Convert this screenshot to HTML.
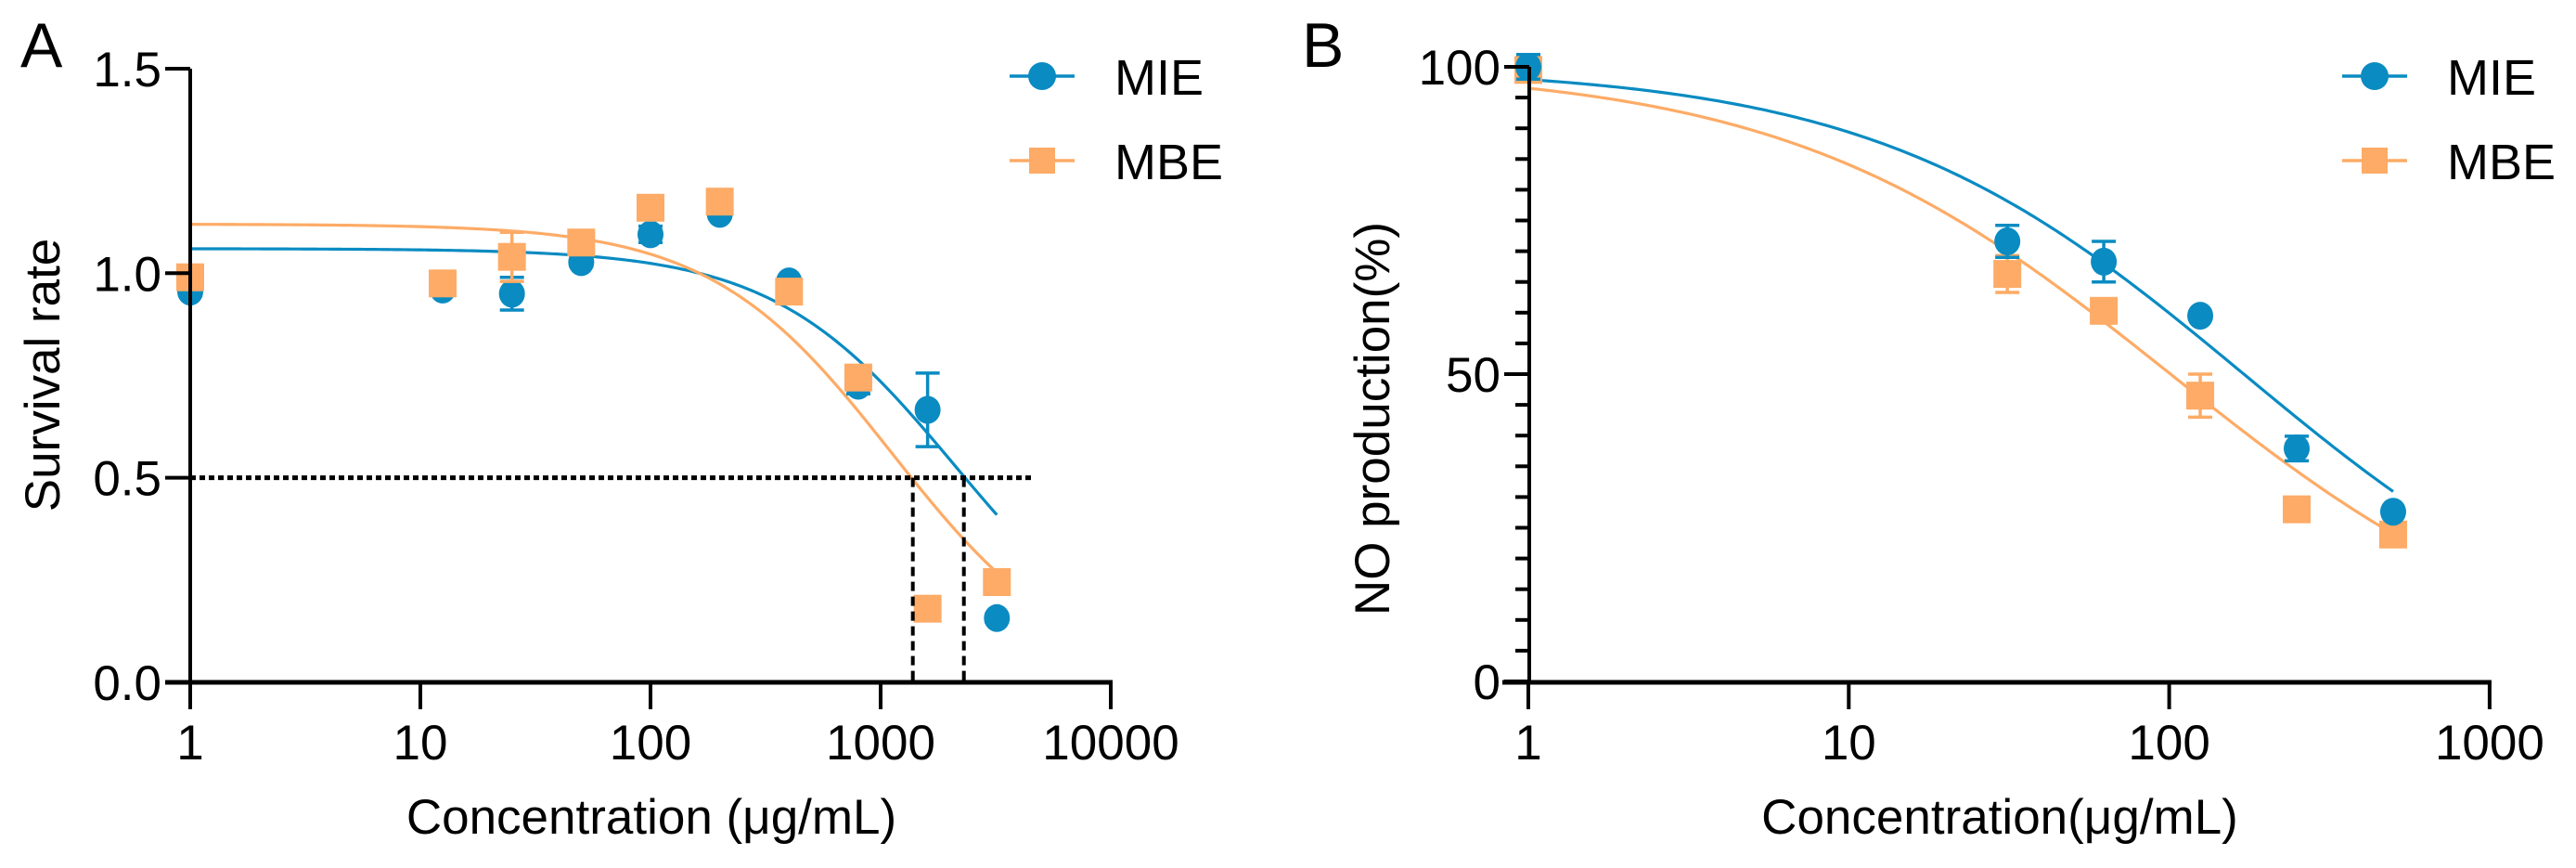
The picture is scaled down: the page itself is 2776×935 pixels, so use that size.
<!DOCTYPE html>
<html><head><meta charset="utf-8"><style>
html,body{margin:0;padding:0;background:#fff;}
svg{display:block;font-family:"Liberation Sans",Arial,sans-serif;}
</style></head><body>
<svg id="fig" width="2776" height="935" viewBox="0 0 2776 935" xmlns="http://www.w3.org/2000/svg"></svg>
<script>
// ---------- Panel A data ----------
const concA = [1, 12.5, 25, 50, 100, 200, 400, 800, 1600, 3200];
const mieA = [0.955, 0.96, 0.95, 1.027, 1.095, 1.145, 0.98, 0.725, 0.666, 0.157];
const mieAErr = [0.01, 0.01, 0.04, 0.01, 0.02, 0.01, 0.01, 0.02, 0.09, 0.01];
const mbeA = [0.99, 0.975, 1.04, 1.075, 1.16, 1.175, 0.955, 0.745, 0.18, 0.245];
const mbeAErr = [0.01, 0.01, 0.06, 0.01, 0.01, 0.01, 0.01, 0.01, 0.01, 0.01];
const yTicksA = [0, 0.5, 1.0, 1.5];
const yTickLabelsA = ["0.0", "0.5", "1.0", "1.5"];
const xTicksA = [1, 10, 100, 1000, 10000];
const xTickLabelsA = ["1", "10", "100", "1000", "10000"];
// fit params: top, bottom, EC50, hill
const fitMieA = [1.06, 0, 2100, 1.1];
const fitMbeA = [1.12, 0, 1120, 1.1];
const ic50A = [1380, 2300];

// ---------- Panel B data ----------
const concB = [1, 31.25, 62.5, 125, 250, 500];
const mieB = [100, 71.6, 68.3, 59.5, 37.9, 27.6];
const mieBErr = [2, 2.6, 3.3, 0.5, 2, 0.5];
const mbeB = [99.5, 66.3, 60.3, 46.5, 28, 23.9];
const mbeBErr = [0.5, 3, 1, 3.5, 0.5, 0.5];
const yTicksB = [0, 50, 100];
const yTickLabelsB = ["0", "50", "100"];
const xTicksB = [1, 10, 100, 1000];
const xTickLabelsB = ["1", "10", "100", "1000"];
const fitMieB = [100, 0, 171, 0.75];
const fitMbeB = [100, 0, 101, 0.72];

const BLUE = "#0a8bc2", ORANGE = "#fdab66";
const NS = "http://www.w3.org/2000/svg";
const svg = document.getElementById("fig");
function mk(tag, attrs, parent) {
  const e = document.createElementNS(NS, tag);
  for (const k in attrs) e.setAttribute(k, attrs[k]);
  (parent || svg).appendChild(e);
  return e;
}
function logistic(p, x) { return p[1] + (p[0] - p[1]) / (1 + Math.pow(x / p[2], p[3])); }

const xA = v => 205 + 248 * Math.log10(v);
const yA = v => 735 - 440.7 * v;
const xB = v => 1647 + 345.3 * Math.log10(v);
const yB = v => 734 - 6.62 * v;

function drawPanel(P) {
  const g = mk("g", {});
  
  
  const L = mk("text", {x: P.letterX, y: 72, "font-size": 68}, g);
  L.textContent = P.letter;
  
  
  [[P.fit1, BLUE, 'mie-fit-curve'], [P.fit2, ORANGE, 'mbe-fit-curve']].forEach(([fp, col, nm]) => {
    let d = "";
    const l0 = Math.log10(P.curveFrom), l1 = Math.log10(P.curveTo);
    for (let i = 0; i <= 200; i++) {
      const lx = l0 + (l1 - l0) * i / 200, x = Math.pow(10, lx);
      d += (i ? "L" : "M") + P.xf(x).toFixed(2) + " " + P.yf(logistic(fp, x)).toFixed(2);
    }
    const c = mk("path", {d: d, fill: "none", stroke: col, "stroke-width": 3.2}, g);
    
    
  });
  const drawSeries = (vals, errs, col, shape, nm) => {
    vals.forEach((v, i) => {
      const cx = P.xf(P.conc[i]), cy = P.yf(v);
      const e1 = P.yf(v + errs[i]), e2 = P.yf(v - errs[i]);
      const eb = mk("path", {d: `M${cx} ${e1}L${cx} ${e2}M${cx-13} ${e1}L${cx+13} ${e1}M${cx-13} ${e2}L${cx+13} ${e2}`, stroke: col, "stroke-width": 3.5, fill: "none"}, g);
      
      
      let m;
      if (shape === "circle") m = mk("ellipse", {cx: cx, cy: cy, rx: 14, ry: 15, fill: col}, g);
      else m = mk("rect", {x: cx - 15, y: cy - 15, width: 30, height: 30, fill: col}, g);
      
      
    });
  };
  if (P.mbeOnTop) {
    drawSeries(P.mie, P.mieErr, BLUE, "circle", "mie");
    drawSeries(P.mbe, P.mbeErr, ORANGE, "square", "mbe");
  } else {
    drawSeries(P.mbe, P.mbeErr, ORANGE, "square", "mbe");
    drawSeries(P.mie, P.mieErr, BLUE, "circle", "mie");
  }
  const ya = mk("line", {x1: P.axX, y1: P.yf(P.yTicks[P.yTicks.length-1]), x2: P.axX, y2: 737, stroke: "#000", "stroke-width": 4}, g);
  
  
  const xa = mk("line", {x1: P.xAxisStart, y1: 735, x2: P.xf(P.xTicks[P.xTicks.length-1]) + 2, y2: 735, stroke: "#000", "stroke-width": 5}, g);
  
  
  P.yTicks.forEach((t, i) => {
    const y = P.yf(t);
    const tk = mk("line", {x1: P.axX - 27, y1: y, x2: P.axX, y2: y, stroke: "#000", "stroke-width": 4}, g);
    
    
    const tl = mk("text", {x: P.axX - 31, y: y + 19, "font-size": 53, "text-anchor": "end"}, g);
    tl.textContent = P.yTickLabels[i];
    
    
  });
  if (P.minor) {
    for (let v = P.minor; v < P.yTicks[P.yTicks.length-1]; v += P.minor) {
      if (P.yTicks.includes(v)) continue;
      const y = P.yf(v);
      const mt = mk("line", {x1: P.axX - 15, y1: y, x2: P.axX, y2: y, stroke: "#000", "stroke-width": 4}, g);
      
      
    }
  }
  P.xTicks.forEach((t, i) => {
    const x = P.xf(t);
    const tk = mk("line", {x1: x, y1: 735, x2: x, y2: 764, stroke: "#000", "stroke-width": 4}, g);
    
    
    const tl = mk("text", {x: x, y: 818, "font-size": 53, "text-anchor": "middle"}, g);
    tl.textContent = P.xTickLabels[i];
    
    
  });
  const xt = mk("text", {x: P.xTitleX, y: 898, "font-size": 53, "text-anchor": "middle"}, g);
  xt.textContent = P.xTitle;
  
  
  const yt = mk("text", {x: 0, y: 0, "font-size": 53, "text-anchor": "middle", transform: `translate(${P.yTitleX},${P.yTitleY}) rotate(-90)`}, g);
  yt.textContent = P.yTitle;
  
  
  [["MIE", BLUE, "circle", 82], ["MBE", ORANGE, "square", 173]].forEach(([lab, col, sh, y]) => {
    const lg = mk("g", {}, g);
    
    
    mk("line", {x1: P.legX - 35, y1: y, x2: P.legX + 35, y2: y, stroke: col, "stroke-width": 3.5}, lg);
    if (sh === "circle") mk("circle", {cx: P.legX, cy: y, r: 15, fill: col}, lg);
    else mk("rect", {x: P.legX - 14, y: y - 14, width: 28, height: 28, fill: col}, lg);
    const t = mk("text", {x: P.legX + 78, y: y + 20, "font-size": 54}, lg);
    t.textContent = lab;
  });
  return g;
}

const gA = drawPanel({name: "panel-a-survival-chart", letter: "A", letterX: 22, xf: xA, yf: yA, conc: concA,
  mie: mieA, mieErr: mieAErr, mbe: mbeA, mbeErr: mbeAErr, fit1: fitMieA, fit2: fitMbeA,
  curveFrom: 1, curveTo: 3200, yTicks: yTicksA, yTickLabels: yTickLabelsA, xTicks: xTicksA, xTickLabels: xTickLabelsA,
  axX: 205, xAxisStart: 178, xTitle: "Concentration (\u03bcg/mL)", xTitleX: 702, yTitle: "Survival rate", yTitleX: 64, yTitleY: 404,
  legX: 1123, mbeOnTop: true, minor: 0});
const hl = mk("line", {x1: 205, y1: yA(0.5), x2: 1114, y2: yA(0.5), stroke: "#000", "stroke-width": 5, "stroke-dasharray": "6 4"}, gA);


ic50A.forEach(v => {
  const vl = mk("line", {x1: xA(v), y1: yA(0.5), x2: xA(v), y2: 735, stroke: "#000", "stroke-width": 4, "stroke-dasharray": "10 6"}, gA);
  
  
});

drawPanel({name: "panel-b-no-production-chart", letter: "B", letterX: 1403, xf: xB, yf: yB, conc: concB,
  mie: mieB, mieErr: mieBErr, mbe: mbeB, mbeErr: mbeBErr, fit1: fitMieB, fit2: fitMbeB,
  curveFrom: 1, curveTo: 500, yTicks: yTicksB, yTickLabels: yTickLabelsB, xTicks: xTicksB, xTickLabels: xTickLabelsB,
  axX: 1648, xAxisStart: 1619, xTitle: "Concentration(\u03bcg/mL)", xTitleX: 2155, yTitle: "NO production(%)", yTitleX: 1497, yTitleY: 451,
  legX: 2559, mbeOnTop: false, minor: 5});
</script>
</body></html>
